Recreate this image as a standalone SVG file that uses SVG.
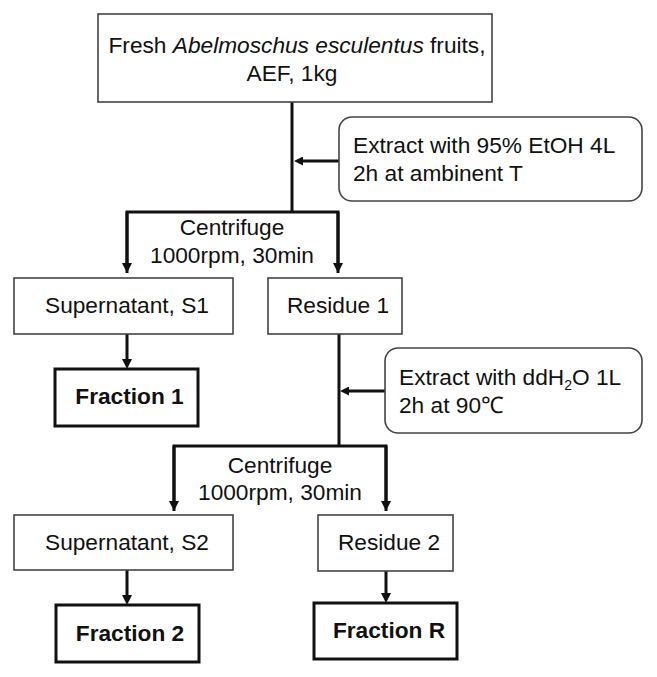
<svg xmlns="http://www.w3.org/2000/svg" width="657" height="677" viewBox="0 0 657 677">
<style>
text{font-family:"Liberation Sans",Arial,sans-serif;font-size:22.7px;fill:#111}
.b{font-weight:bold}
.box{fill:#fff;stroke:#444;stroke-width:1.6}
.fr{fill:#fff;stroke:#111;stroke-width:3}
.ln{fill:none;stroke:#111;stroke-width:3}
.mid{text-anchor:middle}
</style>
<defs>
<marker id="ah" markerUnits="userSpaceOnUse" markerWidth="10" markerHeight="10" refX="4" refY="5" orient="auto">
<path d="M0,0 L10,5 L0,10 z" fill="#111"/>
</marker>
<marker id="ahs" markerUnits="userSpaceOnUse" markerWidth="9" markerHeight="9" refX="3" refY="4.5" orient="auto">
<path d="M0,0 L9,4.5 L0,9 z" fill="#111"/>
</marker>
</defs>
<rect width="657" height="677" fill="#fff"/>
<g id="connectors">
<path class="ln" d="M292,102 V212"/>
<path class="ln" d="M127,273 V212 H338 V273"/>
<path class="ln" d="M127,212 V267" marker-end="url(#ah)"/>
<path class="ln" d="M338,212 V267" marker-end="url(#ah)"/>
<path class="ln" d="M339,161 H300" marker-end="url(#ahs)" stroke-width="2.5"/>
<path class="ln" d="M127,334 V363" marker-end="url(#ah)"/>
<path class="ln" d="M339,334 V446"/>
<path class="ln" d="M174,511 V446 H386 V511"/>
<path class="ln" d="M174,446 V505" marker-end="url(#ah)"/>
<path class="ln" d="M386,446 V505" marker-end="url(#ah)"/>
<path class="ln" d="M385,391 H346" marker-end="url(#ahs)" stroke-width="2.5"/>
<path class="ln" d="M127,570 V599" marker-end="url(#ah)"/>
<path class="ln" d="M386,571 V597" marker-end="url(#ah)"/>
</g>
<g id="top">
<rect class="box" x="98" y="14" width="394" height="88"/>
<text class="mid" x="297" y="53">Fresh <tspan font-style="italic">Abelmoschus esculentus</tspan> fruits,</text>
<text class="mid" x="292" y="81">AEF, 1kg</text>
</g>
<g id="extract1">
<rect class="box" x="339" y="117" width="303" height="84" rx="13"/>
<text x="353" y="153">Extract with 95% EtOH 4L</text>
<text x="353" y="181">2h at ambinent T</text>
</g>
<g id="centrifuge1">
<text class="mid" x="232" y="235">Centrifuge</text>
<text class="mid" x="232" y="263">1000rpm, 30min</text>
</g>
<g id="s1">
<rect class="box" x="14" y="278" width="219" height="56"/>
<text class="mid" x="127" y="313">Supernatant, S1</text>
</g>
<g id="residue1">
<rect class="box" x="268" y="278" width="134" height="56"/>
<text class="mid" x="338" y="313">Residue 1</text>
</g>
<g id="fraction1">
<rect class="fr" x="55" y="369" width="143" height="57"/>
<text class="mid b" x="129.5" y="404">Fraction 1</text>
</g>
<g id="extract2">
<rect class="box" x="385" y="348" width="257" height="85" rx="13"/>
<text x="399" y="385">Extract with ddH<tspan font-size="14" dy="5">2</tspan><tspan dy="-5">O 1L</tspan></text>
<text x="399" y="413">2h at 90℃</text>
</g>
<g id="centrifuge2">
<text class="mid" x="280" y="473">Centrifuge</text>
<text class="mid" x="280" y="500">1000rpm, 30min</text>
</g>
<g id="s2">
<rect class="box" x="14" y="515" width="219" height="55"/>
<text class="mid" x="127" y="550">Supernatant, S2</text>
</g>
<g id="residue2">
<rect class="box" x="318" y="515" width="135" height="56"/>
<text class="mid" x="389" y="550">Residue 2</text>
</g>
<g id="fraction2">
<rect class="fr" x="56" y="605" width="143" height="57"/>
<text class="mid b" x="130" y="641">Fraction 2</text>
</g>
<g id="fractionR">
<rect class="fr" x="314" y="603" width="143" height="56"/>
<text class="mid b" x="389" y="638">Fraction R</text>
</g>
</svg>
